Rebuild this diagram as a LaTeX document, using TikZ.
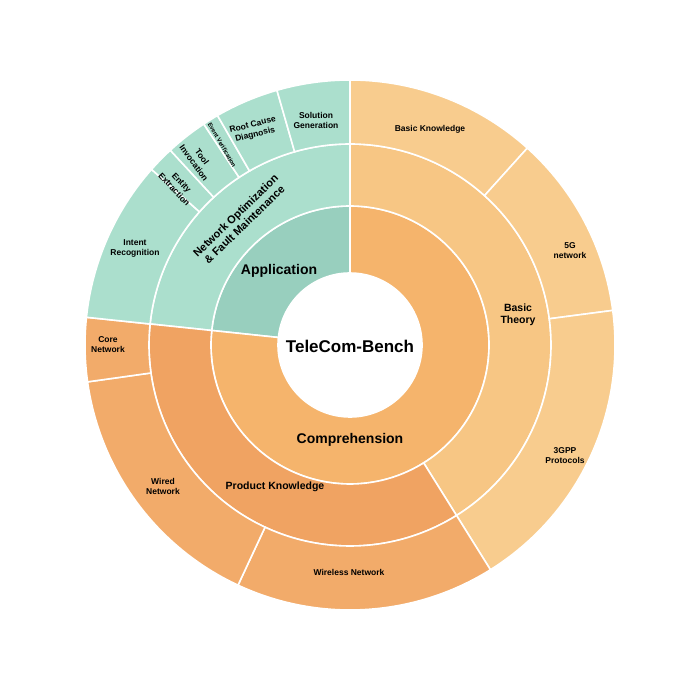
\documentclass[tikz,border=0pt]{standalone}
\usepackage{fontspec}
\setmainfont{Liberation Sans}
\tikzset{
  seg/.style={draw=white, line width=1.6pt},
  lbl/.style={font=\bfseries\fontsize{8.5}{10}\selectfont, align=center, text=black},
}
\definecolor{tealA}{HTML}{98CFBE}
\definecolor{tealB}{HTML}{ABDFCD}
\definecolor{orgA}{HTML}{F5B46C}
\definecolor{orgB}{HTML}{F7C684}
\definecolor{orgC}{HTML}{F8CC8E}
\definecolor{redA}{HTML}{F0A362}
\definecolor{redB}{HTML}{F2AB6A}
% sector: color, start angle, end angle, inner r, outer r
\newcommand{\sector}[5]{%
  \draw[seg, fill=#1] (350,342) ++(#2:#4) arc[start angle=#2, end angle=#3, radius=#4]
    -- ($(350,342)+(#3:#5)$) arc[start angle=#3, end angle=#2, radius=#5] -- cycle;}
\usetikzlibrary{calc}
\begin{document}
\begin{tikzpicture}[x=1pt,y=1pt]
  \useasboundingbox (0,0) rectangle (700,687);

  % inner ring
  \sector{tealA}{90}{174}{72}{139}
  \sector{orgA}{-186}{90}{72}{139}

  % middle ring
  \sector{tealB}{90}{174}{139}{201}
  \sector{orgB}{-58}{90}{139}{201}
  \sector{redA}{-186}{-58}{139}{201}

  % outer ring
  \sector{orgC}{48}{90}{201}{265}
  \sector{orgC}{7.5}{48}{201}{265}
  \sector{orgC}{-58}{7.5}{201}{265}
  \sector{redB}{-115}{-58}{201}{265}
  \sector{redB}{-172}{-115}{201}{265}
  \sector{redB}{174}{188}{201}{265}
  \sector{tealB}{138.5}{174}{201}{265}
  \sector{tealB}{132.7}{138.5}{201}{265}
  \sector{tealB}{123.5}{132.7}{201}{265}
  \sector{tealB}{120}{123.5}{201}{265}
  \sector{tealB}{106}{120}{201}{265}
  \sector{tealB}{90}{106}{201}{265}

  % labels
  \node[lbl, font=\bfseries\fontsize{17}{20}\selectfont] (bench) at (350,341) {TeleCom-Bench};
  \node[lbl, font=\bfseries\fontsize{14}{16}\selectfont] (app) at (279,416) {Application};
  \node[lbl, font=\bfseries\fontsize{14}{16}\selectfont] (comp) at (350,247) {Comprehension};
  \node[lbl, font=\bfseries\fontsize{11}{12.5}\selectfont, rotate=44] (nofm) at (240,467) {Network Optimization\\\& Fault Maintenance};
  \node[lbl, font=\bfseries\fontsize{10.5}{12.5}\selectfont] (theory) at (518,372) {Basic\\Theory};
  \node[lbl, font=\bfseries\fontsize{10.5}{12.5}\selectfont] (product) at (275,200) {Product Knowledge};
  \node[lbl] (know) at (430,558) {Basic Knowledge};
  \node[lbl] (fiveg) at (570,436) {5G\\network};
  \node[lbl] (gpp) at (565,231) {3GPP\\Protocols};
  \node[lbl] (wireless) at (349,115) {Wireless Network};
  \node[lbl] (wired) at (163,201) {Wired\\Network};
  \node[lbl] (core) at (108,342) {Core\\Network};
  \node[lbl] (intent) at (135,439) {Intent\\Recognition};
  \node[lbl, rotate=-47] (entity) at (178,501) {Entity\\Extraction};
  \node[lbl, rotate=-54] (tool) at (198,527) {Tool\\Invocation};
  \node[lbl, rotate=-60, font=\bfseries\fontsize{6}{7}\selectfont] (event) at (222,542) {Event Verification};
  \node[lbl, rotate=14] (root) at (254,557) {Root Cause\\Diagnosis};
  \node[lbl] (solution) at (316,567) {Solution\\Generation};
\end{tikzpicture}
\end{document}
